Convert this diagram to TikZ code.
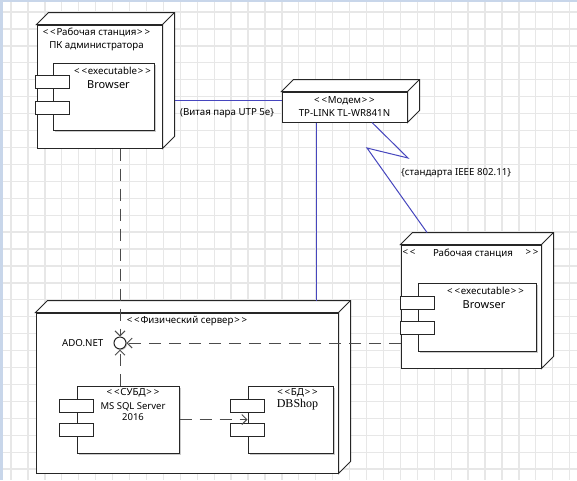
\documentclass[tikz,border=0pt]{standalone}
\usepackage{fontspec}
\setmainfont{Noto Sans}[Ligatures=TeXOff]
\newfontfamily\dbfont{Liberation Serif}
\usepackage{tikz}
\usetikzlibrary{arrows.meta,positioning,calc,shadows}
\definecolor{wireblue}{RGB}{70,70,190}
\definecolor{gridgray}{RGB}{231,231,231}
\definecolor{edgeblue}{RGB}{200,214,234}
\tikzstyle{device} = [rectangle, draw=black!85, line width=1pt, fill=white, inner sep=0pt]
\tikzstyle{comp} = [rectangle, draw=black!85, line width=1pt, fill=white, inner sep=0pt, drop shadow={shadow xshift=1.5pt, shadow yshift=-1.5pt, fill=black!40}]
\tikzstyle{port} = [rectangle, draw=black!85, line width=1pt, fill=white, minimum width=34pt, minimum height=13pt, inner sep=0pt]
\tikzstyle{small} = [font=\fontsize{9.7}{13}\selectfont, inner sep=0pt, align=center]
\tikzstyle{big} = [font=\fontsize{11}{13}\selectfont, inner sep=0pt, align=center]
\tikzstyle{wire} = [wireblue, line width=1pt]
\tikzstyle{dep} = [black!70, line width=1pt, dash pattern=on 12pt off 8pt, -{Straight Barb[length=5pt,width=10pt]}]
\tikzstyle{gridline} = [gridgray, line width=1.3pt]
% stereotype brackets
\newcommand{\stereo}[1]{<\kern1.8pt<\kern0.8pt#1\kern0.8pt>\kern1.8pt>}
% top and right faces of a node box
\newcommand{\boxdepth}[1]{%
  \draw[black!85, line width=1pt, fill=white] (#1.north west) -- ([shift={(12pt,12pt)}]#1.north west)
    -- ([shift={(12pt,12pt)}]#1.north east) -- ([shift={(12pt,12pt)}]#1.south east)
    -- (#1.south east) -- (#1.north east) -- cycle;
  \draw[black!85, line width=1pt] (#1.north east) -- ([shift={(12pt,12pt)}]#1.north east);}
\begin{document}
\begin{tikzpicture}[x=1pt, y=-1pt]
    \useasboundingbox (0,0) rectangle (577,480);
    % background grid
    \fill[white] (0,0) rectangle (577,480);
    \foreach \gx in {0,...,33} \draw[gridline] ({11+16.93*\gx},0) -- ++(0,480);
    \foreach \gy in {0,...,27} \draw[gridline] (0,{12+16.93*\gy}) -- ++(577,0);
    \fill[edgeblue] (0,0) rectangle (3,480);
    \fill[edgeblue] (0,0) rectangle (577,2);

    % admin workstation
    \node[device, minimum width=125pt, minimum height=123pt] (admin) at (99.5,86.5) {};
    \boxdepth{admin}
    \node[small, below=3pt of admin.north, xshift=-3pt] (admintitle) {\stereo{Рабочая станция}\\ПК администратора};
    \node[comp, minimum width=101pt, minimum height=67pt] (br1) at (103.5,96.5) {};
    \node[port] (br1p1) at ([yshift=-19.5pt]br1.north west) {};
    \node[port] (br1p2) at ([yshift=-45pt]br1.north west) {};
    \node[small] (br1st) at ([xshift=9pt, yshift=-8pt]br1.north) {\stereo{executable}};
    \node[big] (br1name) at ([xshift=5pt, yshift=-22pt]br1.north) {Browser};

    % modem
    \node[device, small, minimum width=125pt, minimum height=30pt] (modem) at (344.5,107) {\stereo{Модем}\\TP-LINK TL-WR841N};
    \boxdepth{modem}

    % second workstation
    \node[device, minimum width=140pt, minimum height=123pt] (ws) at (471,306.5) {};
    \boxdepth{ws}
    \node[small] (wsl) at (409,253) {<\kern1.8pt<};
    \node[small] (wstitle) at (473,253) {Рабочая станция};
    \node[small] (wsr) at (532,253) {>\kern1.8pt>};
    \node[comp, minimum width=118pt, minimum height=68pt] (br2) at (477,317) {};
    \node[port] (br2p1) at ([yshift=-20pt]br2.north west) {};
    \node[port] (br2p2) at ([yshift=-45.5pt]br2.north west) {};
    \node[small] (br2st) at ([xshift=8.5pt, yshift=-8pt]br2.north) {\stereo{executable}};
    \node[big] (br2name) at ([xshift=7pt, yshift=-22pt]br2.north) {Browser};

    % server
    \node[device, minimum width=302pt, minimum height=160pt] (srv) at (187,393) {};
    \boxdepth{srv}
    \node[small] (srvtitle) at ([yshift=-9pt]srv.north) {\stereo{Физический сервер}};
    \node[circle, draw=black!85, line width=1pt, fill=white, minimum size=12pt, inner sep=0pt,
          drop shadow={shadow xshift=1pt, shadow yshift=-1pt, fill=black!40}] (ado) at (120,343) {};
    \node[small, left=10pt of ado] (adolabel) {ADO.NET};
    \node[comp, minimum width=102pt, minimum height=67pt] (dbms) at (128,419.5) {};
    \node[port] (dbmsp1) at ([yshift=-20pt]dbms.north west) {};
    \node[port] (dbmsp2) at ([yshift=-44.5pt]dbms.north west) {};
    \node[small] (dbmsst) at ([xshift=5pt, yshift=-7pt]dbms.north) {\stereo{СУБД}};
    \node[small, font=\fontsize{9.5}{11}\selectfont] (dbmsname) at ([xshift=5pt, yshift=-26.5pt]dbms.north) {MS SQL Server\\2016};
    \node[comp, minimum width=85pt, minimum height=67pt] (db) at (290.5,419.5) {};
    \node[port] (dbp1) at ([yshift=-20pt]db.north west) {};
    \node[port] (dbp2) at ([yshift=-44.5pt]db.north west) {};
    \node[small] (dbst) at ([xshift=7pt, yshift=-7pt]db.north) {\stereo{БД}};
    \node[font=\dbfont\fontsize{12}{14}\selectfont, inner sep=0pt] (dbname) at ([xshift=7pt, yshift=-19pt]db.north) {DBShop};

    % links
    \coordinate (mleft) at ([yshift=6.5pt]modem.west);
    \coordinate (aback) at ([xshift=12pt]admin.east);
    \draw[wire] (mleft) -- (mleft -| aback);
    \node[small, anchor=west] (utp) at (180,113) {(Витая пара UTP 5e\}};
    \coordinate (mdrop) at ([xshift=-28.5pt]modem.south);
    \coordinate (srvtop) at ([yshift=12pt]srv.north);
    \draw[wire] (mdrop) -- (mdrop |- srvtop);
    \coordinate (zstart) at ([xshift=27.5pt]modem.south);
    \coordinate (z1) at (408,158);
    \coordinate (z2) at (367,148);
    \coordinate (wstop) at ([xshift=-44pt, yshift=12pt]ws.north);
    \draw[wire] (zstart) -- (z1) -- (z2) -- (wstop);
    \node[small, anchor=west] (ieee) at (401,173) {\{стандарта IEEE 802.11\}};

    % dependencies
    \draw[dep] (admin.south -| ado) -- (ado.north);
    \draw[dep] (ws.west |- ado) -- (ado.east);
    \draw[dep] (dbms.north -| ado) -- (ado.south);
    \draw[dep] (dbms.east) -- (db.west);
\end{tikzpicture}
\end{document}
